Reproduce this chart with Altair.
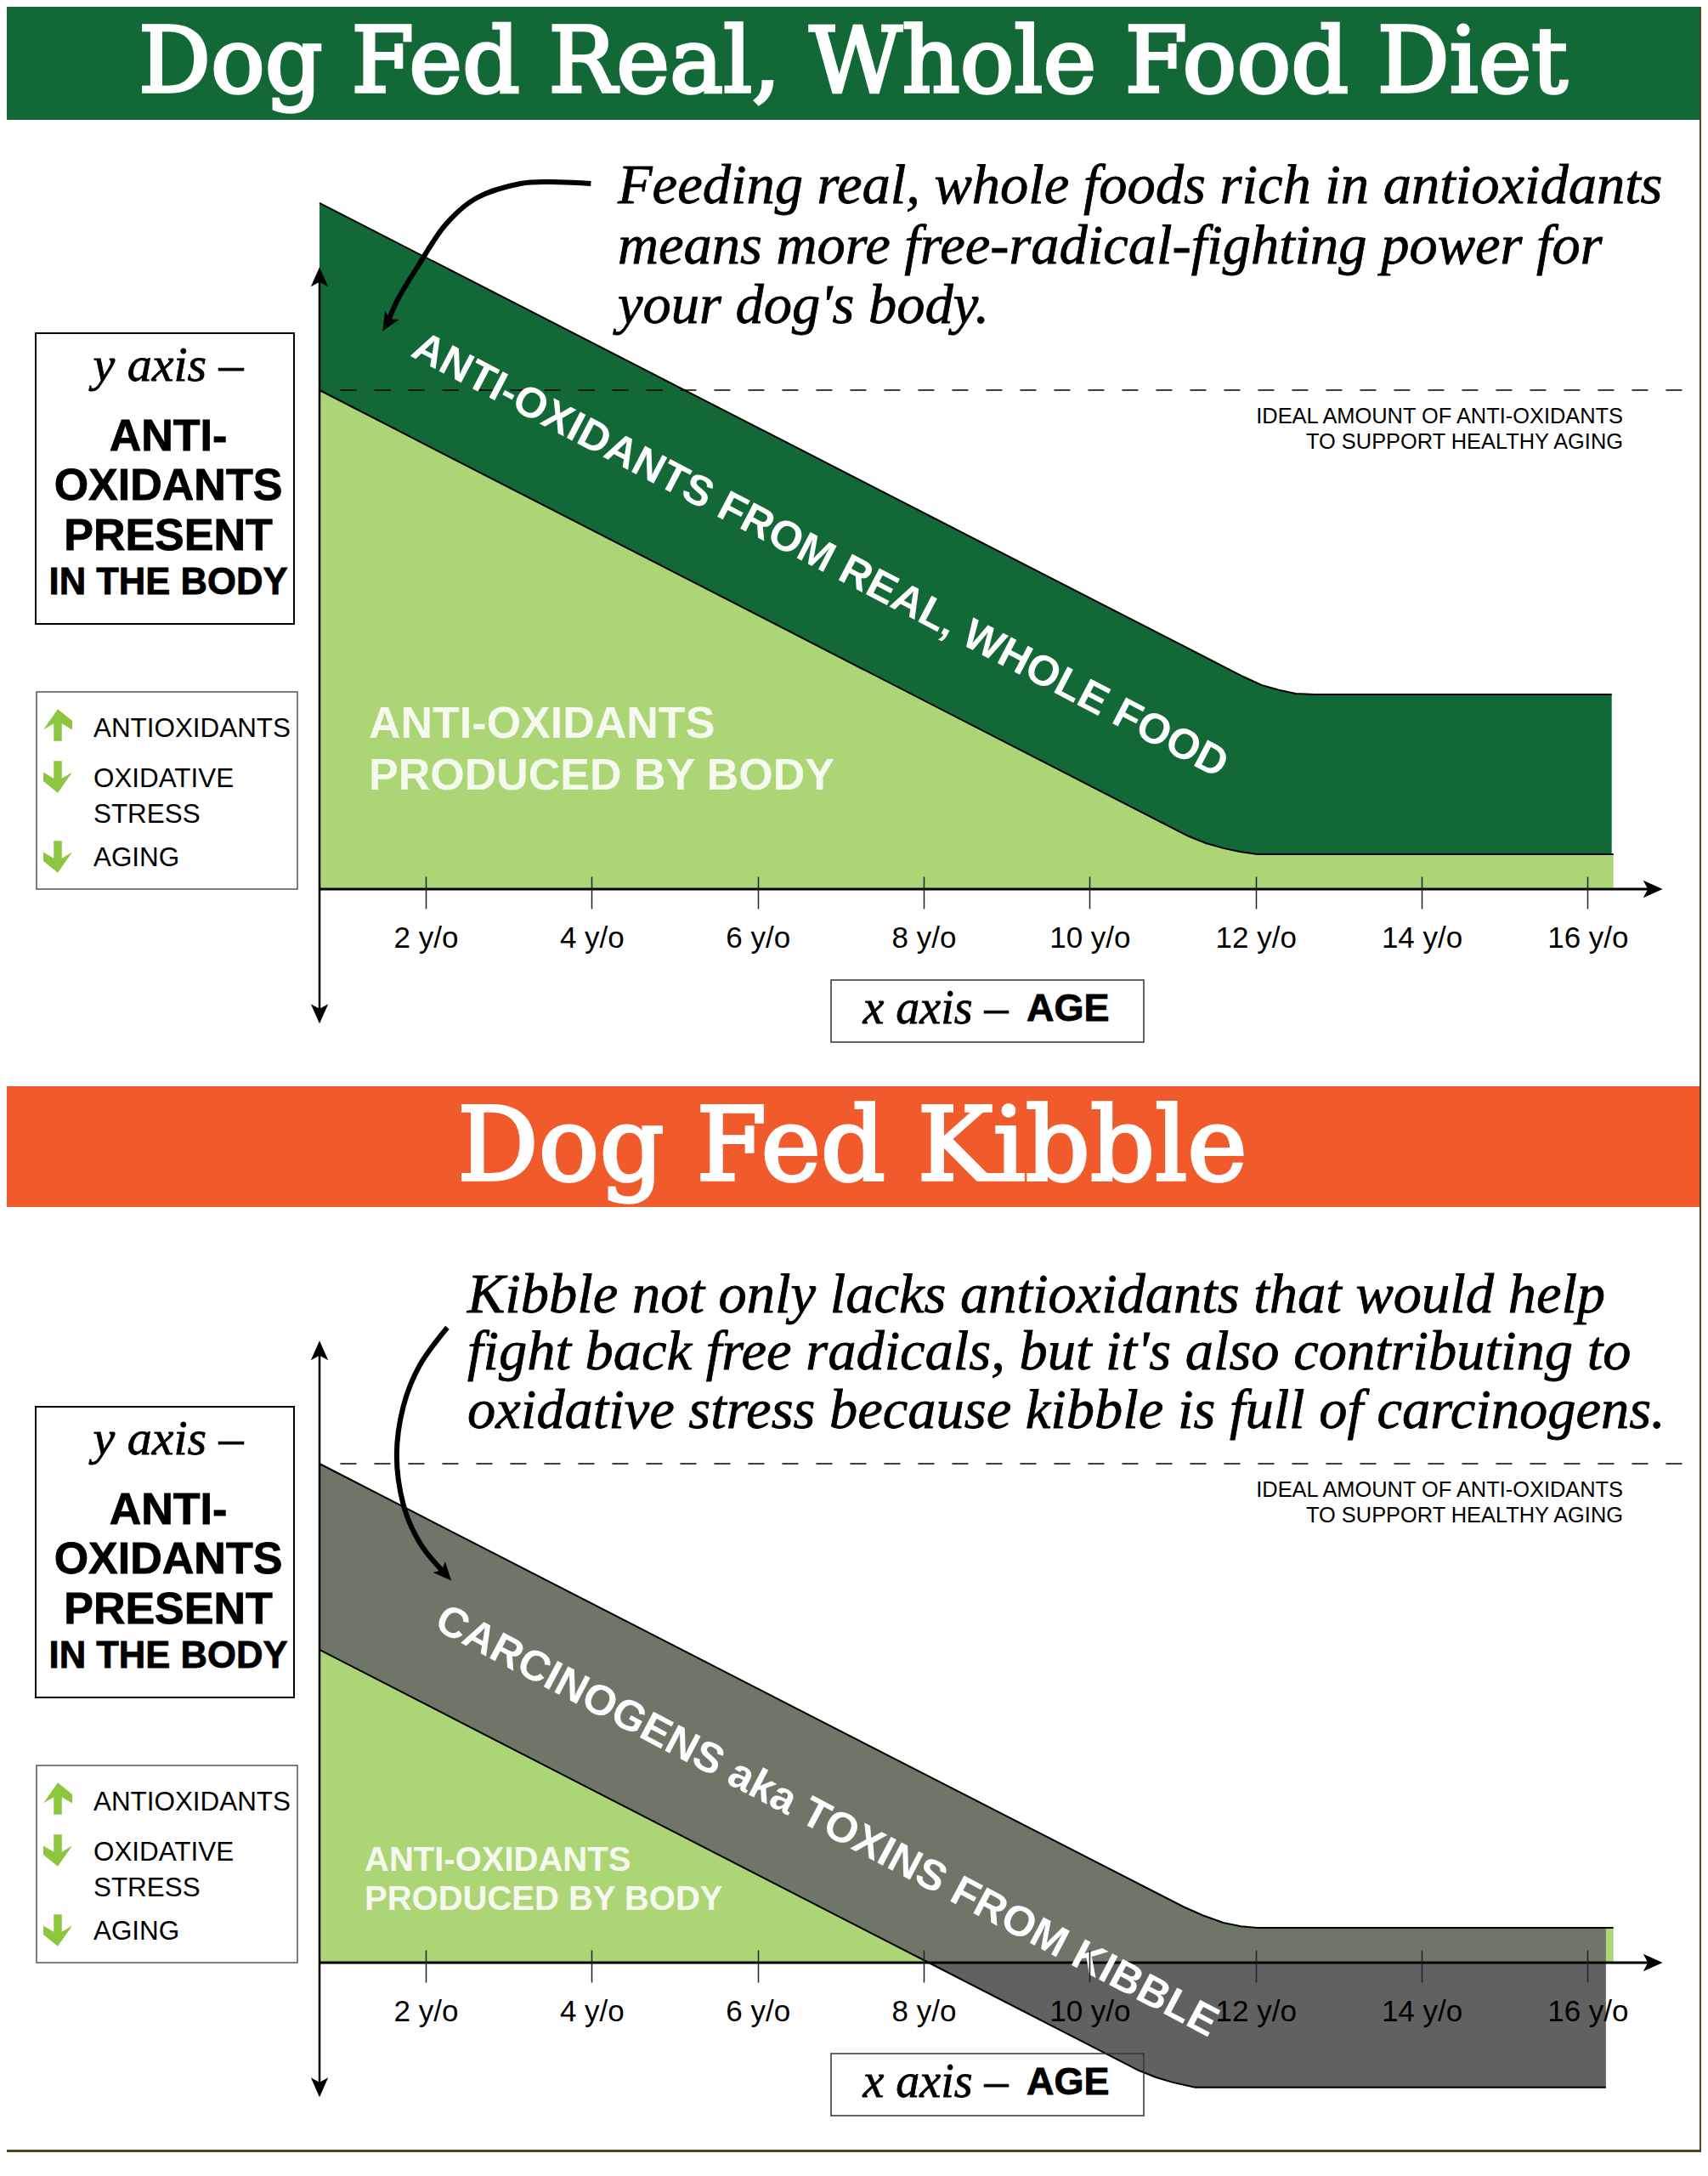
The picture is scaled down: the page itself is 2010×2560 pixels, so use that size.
import altair as alt
import pandas as pd

# ---------- data (age in years, level: 100 = ideal amount) ----------
TICK_AGES = [2, 4, 6, 8, 10, 12, 14, 16]

REAL_TOTAL_AGE = [0.72, 6.0, 11.86, 12.07, 12.28, 12.48, 12.71, 16.29]
REAL_TOTAL_LVL = [137.5, 92.5, 42.5, 40.9, 39.9, 39.2, 39.0, 39.0]
REAL_BODY_AGE = [0.72, 6.0, 11.19, 11.40, 11.61, 11.81, 12.02, 16.31]
REAL_BODY_LVL = [100.0, 54.9, 10.6, 9.2, 8.2, 7.5, 7.0, 7.0]

KIB_TOP_AGE = [0.72, 6.0, 11.13, 11.36, 11.61, 11.82, 12.02, 16.31]
KIB_TOP_LVL = [100.0, 54.9, 11.2, 9.5, 8.0, 7.3, 7.0, 7.0]
KIB_LOW_AGE = [0.72, 8.06, 10.59, 10.80, 11.00, 11.27, 16.22]
KIB_LOW_LVL = [62.7, 0.0, -21.6, -23.0, -24.0, -25.0, -25.0]

ARROW1_AGE = [3.99, 3.60, 3.14, 2.61, 2.23, 1.90, 1.67, 1.54]
ARROW1_LVL = [141.4, 141.7, 141.4, 138.5, 133.0, 124.7, 118.4, 113.5]
ARROW2_AGE = [2.26, 1.93, 1.73, 1.65, 1.73, 1.93, 2.23]
ARROW2_LVL = [127.3, 119.8, 111.5, 101.7, 91.8, 84.1, 78.0]

TITLE1 = "Dog Fed Real, Whole Food Diet"
TITLE2 = "Dog Fed Kibble"
SCRIPT1 = ["Feeding real, whole foods rich in antioxidants",
           "means more free-radical-fighting power for",
           "your dog's body."]
SCRIPT2 = ["Kibble not only lacks antioxidants that would help",
           "fight back free radicals, but it's also contributing to",
           "oxidative stress because kibble is full of carcinogens."]
IDEAL = ["IDEAL AMOUNT OF ANTI-OXIDANTS", "TO SUPPORT HEALTHY AGING"]
YBOX = ["ANTI-", "OXIDANTS", "PRESENT", "IN THE BODY"]
LEGEND = ["ANTIOXIDANTS", "OXIDATIVE", "STRESS", "AGING"]
BODY = ["ANTI-OXIDANTS", "PRODUCED BY BODY"]
BAND1 = "ANTI-OXIDANTS FROM REAL, WHOLE FOOD"
BAND2 = "CARCINOGENS aka TOXINS FROM KIBBLE"

C_GREEN = "#126937"
C_ORANGE = "#f15a2b"
C_LIGHT = "#acd676"
C_OLIVE = "#6e7767"
C_GRAY = "#616161"
C_BROWN = "#50401c"
C_ARROW = "#8cc63f"

SANS = "Liberation Sans"
SCRIPT = "Liberation Serif"
SLAB = "DejaVu Serif"

# ---------- scales: both panels share the same mapping ----------
W, H = 1994, 1263
XDOM = [-3.048, 17.368]
YDOM = [-38.33, 176.83]

def X(f):
    return alt.X(f, type="quantitative", scale=alt.Scale(domain=XDOM, nice=False, zero=False), title=None)

def Y(f):
    return alt.Y(f, type="quantitative", scale=alt.Scale(domain=YDOM, nice=False, zero=False), axis=None, title=None)

ONE = pd.DataFrame({"k": [0]})

def text(s, x, y, size, font=SANS, bold=False, color="#000000", align="left", angle=None, italic=False, thick=None):
    kw = dict(font=font, fontSize=size, fontWeight="bold" if bold else "normal", color=color,
              align=align, baseline="middle", fontStyle="italic" if italic else "normal")
    if angle is not None:
        kw["angle"] = angle
    if thick:
        kw["stroke"] = color
        kw["strokeWidth"] = thick
    return alt.Chart(ONE).mark_text(**kw).encode(x=alt.value(x - 8), y=alt.value(y - 8), text=alt.value(s))

def rect(x0, x1, y0, y1, fill=None, stroke=None, sw=1.5):
    kw = {}
    kw["fill"] = fill if fill else "transparent"
    if stroke:
        kw["stroke"] = stroke
        kw["strokeWidth"] = sw
    return alt.Chart(ONE).mark_rect(**kw).encode(
        x=alt.value(max(x0, 8) - 8), x2=alt.value(min(x1, 2002) - 8), y=alt.value(max(y0, 8) - 8), y2=alt.value(y1 - 8))

def area(ages, lvls, color):
    d = pd.DataFrame({"age": ages, "lvl": lvls, "zero": [0] * len(ages)})
    return alt.Chart(d).mark_area(color=color, opacity=1, interpolate="linear").encode(
        x=X("age"), y=Y("lvl"), y2=alt.Y2("zero"))

def line(ages, lvls, sw=2, interp="linear"):
    d = pd.DataFrame({"age": ages, "lvl": lvls, "i": list(range(len(ages)))})
    return alt.Chart(d).mark_line(color="#000000", strokeWidth=sw, interpolate=interp, strokeCap="butt").encode(
        x=X("age"), y=Y("lvl"), order=alt.Order("i:Q"))

def hrule(a, b, lvl, sw, dash=None):
    d = pd.DataFrame({"a": [a], "b": [b], "l": [lvl]})
    kw = dict(color="#000000", strokeWidth=sw)
    if dash:
        kw["strokeDash"] = dash
    return alt.Chart(d).mark_rule(**kw).encode(x=X("a"), x2=alt.X2("b"), y=Y("l"))

def vrule(a, l0, l1, sw):
    d = pd.DataFrame({"a": [a], "l0": [l0], "l1": [l1]})
    return alt.Chart(d).mark_rule(color="#000000", strokeWidth=sw).encode(x=X("a"), y=Y("l0"), y2=alt.Y2("l1"))

HEAD = "M0,-1L0.85,0.9L0,0.45L-0.85,0.9Z"
FAT = "M0,-1.1L1,-0.3L1,0.32L0.28,-0.1L0.28,1.1L-0.28,1.1L-0.28,-0.1L-1,0.32Z"

def head(age, lvl, angle, size=576):
    d = pd.DataFrame({"age": [age], "lvl": [lvl]})
    return alt.Chart(d).mark_point(shape=HEAD, size=size, filled=True, color="#000000", opacity=1,
                                   strokeWidth=0, angle=angle).encode(x=X("age"), y=Y("lvl"))

def fat(x, y, angle):
    return alt.Chart(ONE).mark_point(shape=FAT, size=1156, filled=True, color=C_ARROW, opacity=1,
                                     strokeWidth=0, angle=angle).encode(x=alt.value(x - 8), y=alt.value(y - 8))

def axis_layer():
    # real x axis; its ticks straddle the baseline
    d = pd.DataFrame({"age": TICK_AGES, "lvl": [0] * len(TICK_AGES)})
    return alt.Chart(d).mark_point(opacity=0, size=1).encode(
        x=alt.X("age", type="quantitative",
                scale=alt.Scale(domain=XDOM, nice=False, zero=False),
                axis=alt.Axis(values=TICK_AGES, labelExpr="datum.value + ' y/o'", title=None, domain=False,
                              grid=False, orient="bottom", offset=-240, tickSize=38, tickWidth=1.5,
                              tickColor="#222222", labelFont=SANS, labelFontSize=35, labelColor="#000000",
                              labelPadding=17, labelOverlap=False, labelFlush=False, zindex=1)),
        y=Y("lvl"))

def left_boxes():
    out = [rect(42, 346, 392, 734, fill="#ffffff", stroke="#000000", sw=2)]
    out.append(text("y axis –", 198, 431, 58, font=SCRIPT, italic=True, align="center", thick=0.8))
    for s, y, fs in zip(YBOX, [514, 572, 631, 686], [52, 52, 52, 43.6]):
        out.append(text(s, 198, y, fs, bold=True, align="center", thick=0.8))
    out.append(rect(43, 350, 814, 1046, fill="#ffffff", stroke="#555555", sw=1.5))
    for s, y in zip(LEGEND, [858, 917, 959, 1010]):
        out.append(text(s, 110, y, 31.4))
    out += [fat(68, 853, 0), fat(68, 914, 180), fat(68, 1008, 180)]
    return out

def ideal():
    return [text(IDEAL[0], 1910, 490, 25.4, align="right"), text(IDEAL[1], 1910, 520, 25.4, align="right")]

def panel1():
    L = [rect(0, 2000, 0, 141, fill=C_GREEN),
         rect(2000, 2002, 0, 1271, fill=C_BROWN),
         axis_layer()]
    L += left_boxes()
    L += [rect(978, 1346, 1153, 1226, fill="#ffffff"),
          area(REAL_TOTAL_AGE, REAL_TOTAL_LVL, C_GREEN),
          area(REAL_BODY_AGE, REAL_BODY_LVL, C_LIGHT),
          line(REAL_TOTAL_AGE, REAL_TOTAL_LVL),
          line(REAL_BODY_AGE, REAL_BODY_LVL),
          hrule(0.97, 17.3, 100, 1.5, [19, 21]),
          hrule(0.72, 16.8, 0, 3),
          vrule(0.72, 122.6, -24.9, 2.5),
          head(16.78, 0, 90), head(0.72, 122.6, 0), head(0.72, -24.9, 180),
          rect(978, 1346, 1153, 1226, stroke="#333333", sw=1.5),
          text("x axis –", 1101, 1187, 56, font=SCRIPT, italic=True, align="center", thick=0.8),
          text("AGE", 1208, 1187, 45, bold=True, thick=0.8)]
    L.append(text(TITLE1, 1004, 76, 106, font=SLAB, color="#ffffff", align="center", thick=3.5))
    for s, y in zip(SCRIPT1, [219, 290, 360]):
        L.append(text(s, 727, y, 66.5, font=SCRIPT, italic=True, thick=0.8))
    L += ideal()
    L += [text(BODY[0], 434, 852, 52, bold=True, color="#f6faee"),
          text(BODY[1], 434, 913, 52, bold=True, color="#f6faee"),
          text(BAND1, 965, 654, 50, bold=True, color="#ffffff", align="center", angle=27.6),
          line(ARROW1_AGE, ARROW1_LVL, 6, "cardinal"),
          head(1.54, 113.5, 211, 520)]
    return alt.layer(*L).properties(width=W, height=H)

def panel2():
    # panel 2 sits 1263 px lower: screen y below are given as panel-1-equivalent values
    L = [rect(0, 2000, 15, 157, fill=C_ORANGE),
         rect(2000, 2002, 0, 1269, fill=C_BROWN),
         rect(0, 2002, 1266, 1269, fill=C_BROWN),
         axis_layer()]
    L += left_boxes()
    L += [rect(978, 1346, 1153, 1226, fill="#ffffff"),
          area(KIB_TOP_AGE, KIB_TOP_LVL, C_LIGHT)]
    olive_age = KIB_TOP_AGE[:-1] + [16.22]
    L += [area(olive_age, KIB_TOP_LVL, C_OLIVE),
          area(KIB_LOW_AGE[:2], KIB_LOW_LVL[:2], C_LIGHT),
          area(KIB_LOW_AGE[1:], KIB_LOW_LVL[1:], C_GRAY),
          line(KIB_TOP_AGE, KIB_TOP_LVL),
          line(KIB_LOW_AGE, KIB_LOW_LVL),
          hrule(0.97, 17.3, 100, 1.5, [19, 21]),
          hrule(0.72, 16.8, 0, 3),
          vrule(0.72, 122.6, -24.9, 2.5),
          head(16.78, 0, 90), head(0.72, 122.6, 0), head(0.72, -24.9, 180),
          rect(978, 1346, 1153, 1226, stroke="#333333", sw=1.5),
          text("x axis –", 1101, 1187, 56, font=SCRIPT, italic=True, align="center", thick=0.8),
          text("AGE", 1208, 1187, 45, bold=True, thick=0.8)]
    L.append(text(TITLE2, 1003, 89, 119, font=SLAB, color="#ffffff", align="center", thick=3.5))
    for s, y in zip(SCRIPT2, [261, 328, 397]):
        L.append(text(s, 550, y, 66.5, font=SCRIPT, italic=True, thick=0.8))
    L += ideal()
    L += [text(BODY[0], 429, 926, 40, bold=True, color="#f6faee"),
          text(BODY[1], 429, 972, 40, bold=True, color="#f6faee"),
          text(BAND2, 973, 880, 50, bold=True, color="#ffffff", align="center", angle=27.8),
          line(ARROW2_AGE, ARROW2_LVL, 6, "cardinal"),
          head(2.23, 78.0, 138, 520)]
    return alt.layer(*L).properties(width=W, height=H)

chart = alt.vconcat(panel1(), panel2(), spacing=0, bounds="flush").properties(
    padding=0
).configure_view(stroke=None).configure_concat(spacing=0)

chart.save("out.html", embed_options={"renderer": "svg", "actions": False})
